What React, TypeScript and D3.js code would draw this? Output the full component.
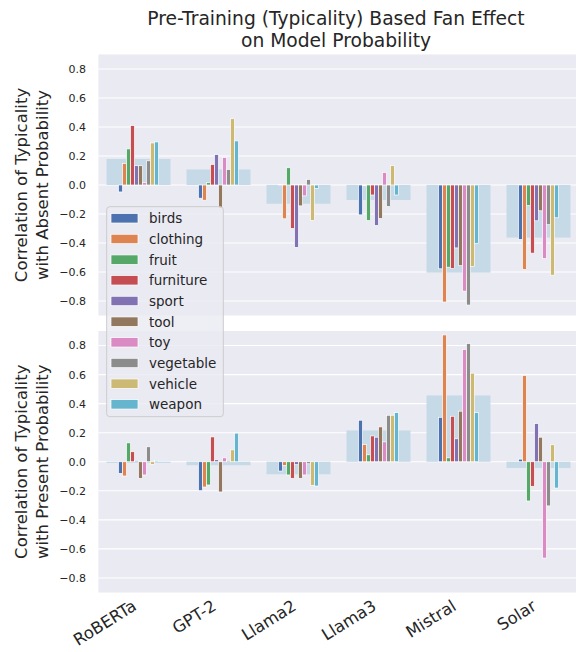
import * as d3 from 'd3'

const width = 576
const height = 652

const models = ['RoBERTa', 'GPT-2', 'Llama2', 'Llama3', 'Mistral', 'Solar']
const categories = [
  'birds',
  'clothing',
  'fruit',
  'furniture',
  'sport',
  'tool',
  'toy',
  'vegetable',
  'vehicle',
  'weapon',
]
const colors = [
  '#4C72B0',
  '#DD8452',
  '#55A868',
  '#C44E52',
  '#8172B3',
  '#937860',
  '#DA8BC3',
  '#8C8C8C',
  '#CCB974',
  '#64B5CD',
]

// one row per model, values in category order
const absentCorr = [
  [-0.048, 0.149, 0.249, 0.41, 0.133, 0.133, 0.016, 0.167, 0.29, 0.297],
  [-0.091, -0.105, 0.016, 0.142, 0.21, -0.16, 0.19, 0.107, 0.457, 0.304],
  [0.003, -0.233, 0.119, -0.3, -0.43, -0.144, -0.075, 0.039, -0.245, -0.023],
  [-0.206, -0.005, -0.245, -0.069, -0.279, -0.231, 0.087, -0.149, 0.133, -0.069],
  [-0.578, -0.807, -0.567, -0.576, -0.434, -0.556, -0.732, -0.828, -0.562, -0.402],
  [-0.375, -0.583, -0.142, -0.47, -0.247, -0.178, -0.508, -0.274, -0.622, -0.226],
]
const presentCorr = [
  [-0.08, -0.098, 0.13, 0.069, 0.009, -0.114, -0.091, 0.103, -0.018, 0.009],
  [-0.199, -0.174, -0.16, 0.171, 0.014, -0.208, 0.027, 0.009, 0.082, 0.197],
  [-0.064, -0.025, -0.091, -0.114, -0.02, -0.114, -0.091, -0.014, -0.162, -0.167],
  [0.286, 0.119, 0.048, 0.178, 0.169, 0.24, 0.137, 0.32, 0.32, 0.338],
  [0.306, 0.873, 0.027, 0.313, 0.158, 0.348, 0.773, 0.814, 0.61, 0.338],
  [0.018, 0.594, -0.27, -0.169, 0.263, 0.169, -0.663, -0.304, 0.117, -0.181],
]
const yTicks = [-0.8, -0.6, -0.4, -0.2, 0, 0.2, 0.4, 0.6, 0.8]

const font = '"DejaVu Sans", sans-serif'
const textColor = '#262626'

const xScale = d3.scaleBand().domain(models).range([98.5, 578.5])
const hueScale = d3
  .scaleBand()
  .domain(categories)
  .range([0, xScale.bandwidth() * 0.5])

const Panel = ({ values, top, bottom, label }) => {
  const yScale = d3.scaleLinear().domain([-0.9, 0.9]).range([bottom, top])
  const [x0, x1] = xScale.range()
  const bgWidth = xScale.bandwidth() * 0.8
  const mid = (top + bottom) / 2
  return (
    <g>
      <rect x={x0} y={top} width={x1 - x0} height={bottom - top} fill="#EAEAF2" />
      {yTicks.map((t) => (
        <g key={t}>
          <line
            x1={x0}
            x2={x1}
            y1={yScale(t)}
            y2={yScale(t)}
            stroke="#fff"
            strokeWidth={1.1}
          />
          <text
            x={86}
            y={yScale(t)}
            dy="0.36em"
            textAnchor="end"
            fontSize={11}
            fill={textColor}
          >
            {d3.format('.1f')(t).replace('-', '\u2212')}
          </text>
        </g>
      ))}
      {models.map((m, i) => {
        const cx = xScale(m) + xScale.bandwidth() / 2
        const mean = d3.mean(values[i])
        const left = cx - xScale.bandwidth() * 0.25
        return (
          <g key={m}>
            <rect
              x={cx - bgWidth / 2}
              y={Math.min(yScale(mean), yScale(0))}
              width={bgWidth}
              height={Math.abs(yScale(mean) - yScale(0))}
              fill="#c5d9e6"
            />
            {values[i].map((v, j) => (
              <rect
                key={j}
                x={left + hueScale(categories[j])}
                y={Math.min(yScale(v), yScale(0))}
                width={hueScale.bandwidth()}
                height={Math.abs(yScale(v) - yScale(0))}
                fill={colors[j]}
                stroke="#fff"
                strokeWidth={0.7}
              />
            ))}
          </g>
        )
      })}
      <text
        transform={`translate(32,${mid}) rotate(-90)`}
        textAnchor="middle"
        fontSize={16.5}
        fill={textColor}
      >
        <tspan x={0} dy="-0.28em">
          Correlation of Typicality
        </tspan>
        <tspan x={0} dy="1.25em">
          {label}
        </tspan>
      </text>
    </g>
  )
}

const App = () => {
  return (
    <svg
      width={width}
      height={height}
      style={{ position: 'absolute', left: 0, top: 0, background: '#fff' }}
      fontFamily={font}
    >
      <text x={336} y={25} textAnchor="middle" fontSize={18.7} fill={textColor}>
        Pre-Training (Typicality) Based Fan Effect
      </text>
      <text x={336} y={47} textAnchor="middle" fontSize={18.7} fill={textColor}>
        on Model Probability
      </text>
      <Panel values={absentCorr} top={54.5} bottom={315.5} label="with Absent Probability" />
      <Panel values={presentCorr} top={331} bottom={592.5} label="with Present Probability" />
      {models.map((m) => (
        <text
          key={m}
          transform={`translate(${xScale(m) + xScale.bandwidth() / 2 - 1},609) rotate(-32)`}
          textAnchor="end"
          fontSize={16.5}
          fill={textColor}
        >
          {m}
        </text>
      ))}
      <g>
        <rect
          x={106.7}
          y={206.7}
          width={116.6}
          height={210}
          rx={3}
          fill="#EAEAF2"
          fillOpacity={0.8}
          stroke="#cccccc"
          strokeWidth={1}
        />
        {categories.map((c, i) => {
          const cy = 218.3 + i * 20.67
          return (
            <g key={c}>
              <rect x={111} y={cy - 4.7} width={27} height={9.4} fill={colors[i]} stroke="#fff" strokeWidth={0.7} />
              <text x={149} y={cy} dy="0.36em" fontSize={13.5} fill={textColor}>
                {c}
              </text>
            </g>
          )
        })}
      </g>
    </svg>
  )
}

export default App
